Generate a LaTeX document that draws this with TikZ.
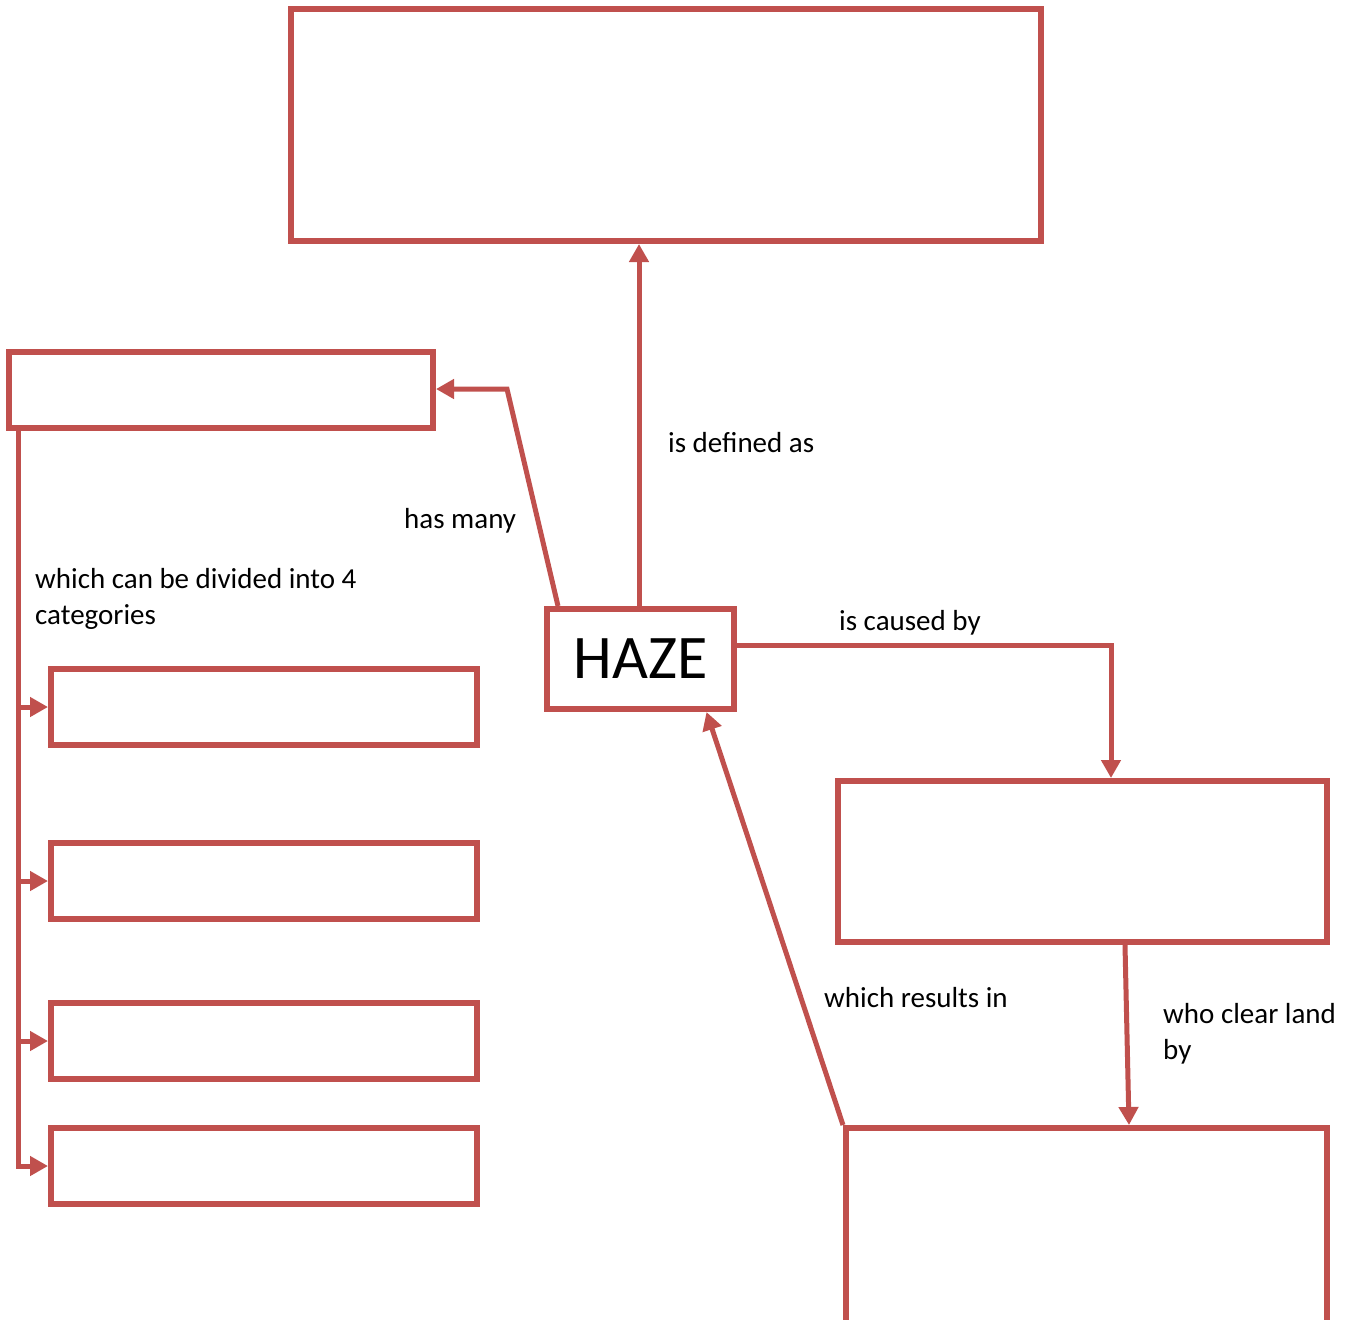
\documentclass[tikz,border=0pt]{standalone}
\usepackage{fontspec}
\setmainfont{Carlito}
\usetikzlibrary{arrows.meta}
\definecolor{boxred}{RGB}{192,80,77}
\tikzset{
  box/.style={draw=boxred, line width=6pt, rectangle, inner sep=0pt, fill=white},
  arr/.style={draw=boxred, line width=5pt, -{Triangle[length=18pt,width=19pt]}},
  lbl/.style={anchor=base west, inner sep=0pt, font=\fontsize{29}{36}\selectfont, text=black},
}
\begin{document}
\begin{tikzpicture}[x=1pt,y=-1pt]
\useasboundingbox (0,0) rectangle (1355,1320);
% boxes
\node[box, minimum width=750pt, minimum height=232pt] (def) at (666,125) {};
\node[box, minimum width=424pt, minimum height=76pt] (many) at (221,390) {};
\node[box, minimum width=426pt, minimum height=76pt] (c1) at (264,707) {};
\node[box, minimum width=426pt, minimum height=76pt] (c2) at (264,881) {};
\node[box, minimum width=426pt, minimum height=76pt] (c3) at (264,1041) {};
\node[box, minimum width=426pt, minimum height=76pt] (c4) at (264,1166) {};
\node[box, minimum width=187pt, minimum height=100pt, font=\fontsize{62}{70}\selectfont] (haze) at (640.5,659) {HAZE};
\node[box, minimum width=489pt, minimum height=161pt] (cause) at (1082.5,861.5) {};
\node[box, minimum width=481pt, minimum height=232pt] (clear) at (1086.5,1244) {};
% connectors
\draw[arr] ([xshift=-1.5pt]haze.north) -- ([xshift=-1.5pt]haze.north |- def.south);
\coordinate (bend1) at (507,389);
\draw[arr] ([xshift=14pt]haze.north west) -- (bend1) -- (bend1 -| many.east);
\coordinate (spine) at ([xshift=12pt]many.south west);
\draw[arr] (spine) |- (c4.west);
\draw[arr] (spine |- c1.west) -- (c1.west);
\draw[arr] (spine |- c2.west) -- (c2.west);
\draw[arr] (spine |- c3.west) -- (c3.west);
\draw[arr] ([yshift=14pt]haze.east) -| ([xshift=28.5pt]cause.north);
\draw[arr] ([xshift=42.5pt]cause.south) -- ([xshift=42.5pt]clear.north);
\draw[arr] (clear.north west) -- ([xshift=66pt]haze.south);
% labels
\node[lbl] (l1) at (668,452) {is defined as};
\node[lbl] (l2) at (404,528) {has many};
\node[lbl] (l3) at (35,588) {which can be divided into 4};
\node[lbl] (l3b) at (35,624) {categories};
\node[lbl] (l4) at (839,630) {is caused by};
\node[lbl] (l5) at (824,1007) {which results in};
\node[lbl] (l6) at (1163,1023) {who clear land};
\node[lbl] (l6b) at (1163,1059) {by};
\end{tikzpicture}
\end{document}
